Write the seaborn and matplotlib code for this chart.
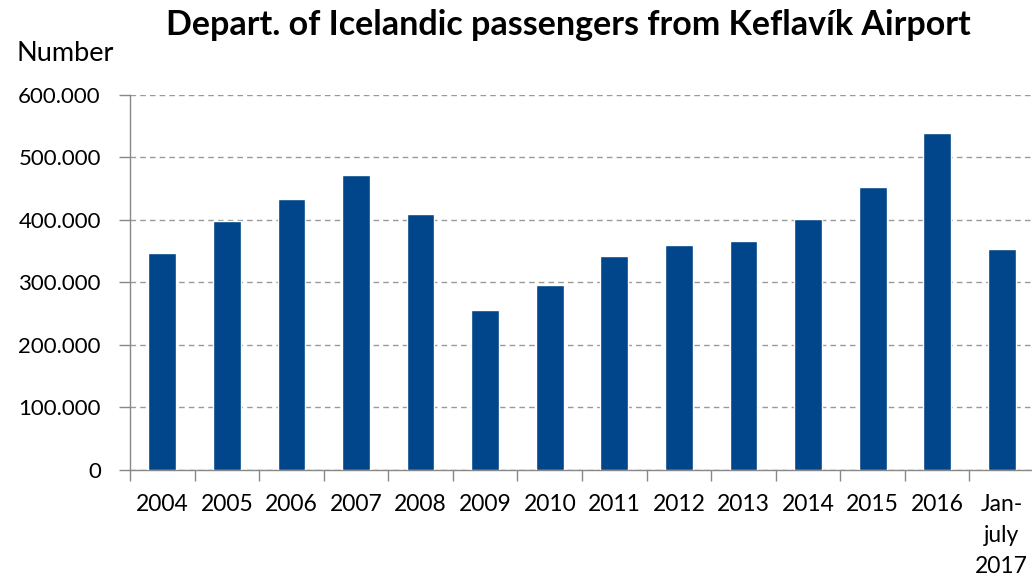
import pandas as pd
import matplotlib.pyplot as plt
import seaborn as sns
import numpy as np
from matplotlib.ticker import FuncFormatter, FixedLocator

# Data
years = ['2004', '2005', '2006', '2007', '2008', '2009', '2010',
         '2011', '2012', '2013', '2014', '2015', '2016', 'Jan-\njuly\n2017']
passengers = [346700, 398000, 433000, 471500, 409000, 256000, 296000,
              342000, 360000, 366000, 401000, 452000, 538700, 353600]

df = pd.DataFrame({'year': years, 'passengers': passengers})

sns.set_style('white')
plt.rcParams['font.family'] = ['Lato', 'DejaVu Sans']
plt.rcParams['text.color'] = 'black'
plt.rcParams['xtick.labelcolor'] = 'black'
plt.rcParams['ytick.labelcolor'] = 'black'

fig = plt.figure(figsize=(10.32, 5.78), dpi=100)
ax = fig.add_axes([0.126, 0.187, 0.876, 0.649])

sns.barplot(data=df, x='year', y='passengers', color='#01458A',
            saturation=1, width=0.43, ax=ax, zorder=3)

ax.set_ylim(0, 600000)
ax.set_xlim(-0.5, len(years) - 0.5)
ax.set_yticks(np.arange(0, 600001, 100000))
ax.yaxis.set_major_formatter(FuncFormatter(lambda v, p: f'{int(v):,}'.replace(',', '.')))
ax.yaxis.grid(True, linestyle=(0, (4, 3)), color='#999999', linewidth=1, zorder=0)
ax.xaxis.grid(False)

# category boundary ticks on x axis
ax.xaxis.set_minor_locator(FixedLocator(np.arange(-0.5, len(years), 1.0)))
ax.tick_params(axis='x', which='major', length=0, pad=17, labelsize=16.5, labelcolor='black')
ax.tick_params(axis='x', which='minor', length=8, color='#888888', width=1, direction='out')
ax.tick_params(axis='y', length=8, color='#888888', width=1, direction='out', pad=13,
               labelsize=16, labelcolor='black')
ax.tick_params(axis='y', which='both', left=True)
ax.tick_params(axis='x', which='minor', bottom=True)

for lbl in ax.get_xticklabels():
    lbl.set_linespacing(1.6)

for s in ['top', 'right']:
    ax.spines[s].set_visible(False)
for s in ['left', 'bottom']:
    ax.spines[s].set_color('#888888')
    ax.spines[s].set_linewidth(1)

ax.set_xlabel('')
ax.set_ylabel('')

fig.text(0.551, 0.957, 'Depart. of Icelandic passengers from Keflavík Airport',
         ha='center', va='center', fontsize=24.5, fontweight='bold', color='black')
fig.text(0.016, 0.908, 'Number', ha='left', va='center', fontsize=19.5, color='black')

plt.savefig('out.png', dpi=100)
